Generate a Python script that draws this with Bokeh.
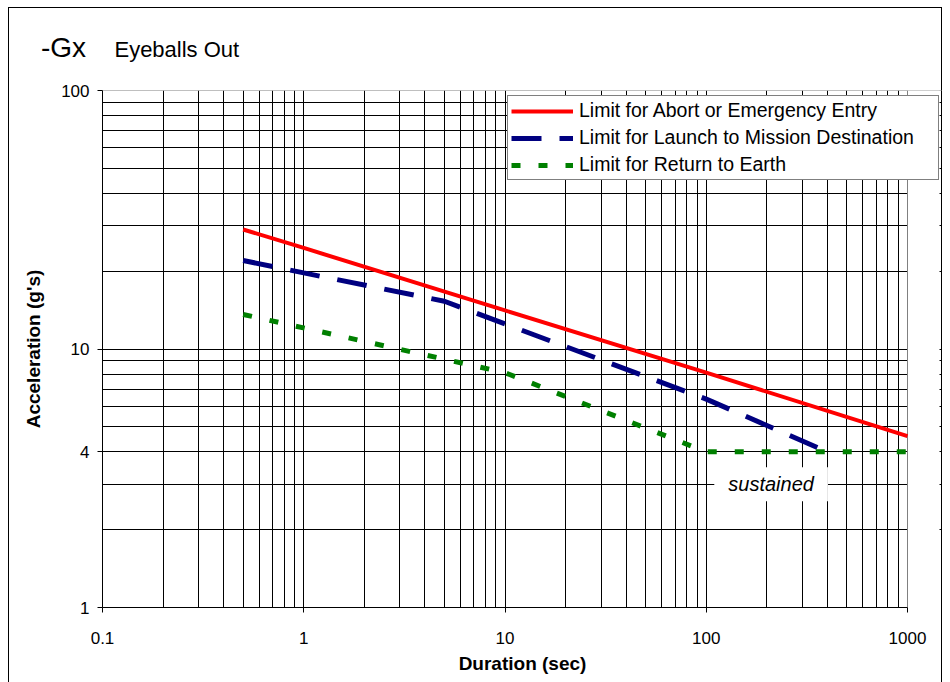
from bokeh.plotting import figure
from bokeh.layouts import column
from bokeh.models import (FixedTicker, Label, Legend, LegendItem, Range1d, Div,
                          CustomJSTickFormatter, Span, BoxAnnotation)
from bokeh.embed import file_html
from bokeh.resources import INLINE

# ---- data ----
abort_x = [0.5, 1, 10, 100, 1000]
abort_y = [29.0, 24.6, 14.1, 8.1, 4.6]

launch_x = [0.5, 1, 5, 10, 100, 400]
launch_y = [22.0, 19.7, 15.3, 12.5, 6.4, 4.0]

return_x = [0.5, 10, 100, 1000]
return_y = [13.6, 8.1, 4.0, 4.0]

series_labels = [
    "Limit for Abort or Emergency Entry",
    "Limit for Launch to Mission Destination",
    "Limit for Return to Earth",
]

x_ticks = [0.1, 1, 10, 100, 1000]
x_tick_labels = ["0.1", "1", "10", "100", "1000"]
y_ticks = [1, 4, 10, 100]
y_tick_labels = ["1", "4", "10", "100"]

x_grid_lines = [m * 10.0 ** e for e in range(-1, 3) for m in range(1, 10)]
y_grid_lines = [m * 10.0 ** e for e in range(0, 2) for m in range(1, 10)]

FONT = "Liberation Sans"

# ---- layout geometry ----
W, H_TITLE, H_PLOT = 942, 70, 602
LEFT = 102
DECADE_PX = 201.25
FRAME_W = W - LEFT
X_MIN, X_MAX = x_ticks[0], x_ticks[-1]
Y_MIN, Y_MAX = y_ticks[0], y_ticks[-1]
X_END = X_MIN * 10 ** (FRAME_W / DECADE_PX)          # frame runs past 1000 so the legend fits
X_COVER = X_MIN * 10 ** ((FRAME_W - 3) / DECADE_PX)

title = Div(
    text=('<div style="padding:27px 0 0 36px;font-family:\'Liberation Sans\';'
          'color:#000;white-space:nowrap;line-height:normal;">'
          '<span style="font-size:28px">-Gx</span> '
          '<span style="font-size:22px;margin-left:25px">Eyeballs Out</span></div>'),
    width=W, height=H_TITLE)

p = figure(width=W, height=H_PLOT, x_axis_type="log", y_axis_type="log",
           x_range=Range1d(X_MIN, X_END), y_range=Range1d(Y_MIN, Y_MAX),
           output_backend="svg", toolbar_location=None, title=None,
           min_border_left=LEFT, min_border_right=0,
           min_border_top=10, min_border_bottom=75)
p.background_fill_alpha = 0
p.border_fill_alpha = 0
p.outline_line_color = None

fmt_code = """
const i = tvals.findIndex(t => Math.abs(t - tick) < 1e-9 * Math.max(1, Math.abs(t)));
return i >= 0 ? tlabels[i] : '';
"""
p.xaxis.ticker = FixedTicker(ticks=x_ticks, minor_ticks=[])
p.xaxis.formatter = CustomJSTickFormatter(args=dict(tvals=x_ticks, tlabels=x_tick_labels), code=fmt_code)
p.xaxis.bounds = (X_MIN, X_MAX)
p.yaxis.ticker = FixedTicker(ticks=y_ticks, minor_ticks=[])
p.yaxis.formatter = CustomJSTickFormatter(args=dict(tvals=y_ticks, tlabels=y_tick_labels), code=fmt_code)

for ax in (p.xaxis[0], p.yaxis[0]):
    ax.axis_line_color = "black"
    ax.axis_line_width = 1
    ax.major_tick_out = 5
    ax.major_tick_in = 0
    ax.minor_tick_out = 0
    ax.minor_tick_in = 0
    ax.major_tick_line_color = "black"
    ax.major_label_text_font = FONT
    ax.major_label_text_font_size = "17px"
    ax.major_label_text_color = "black"
    ax.axis_label_text_font = FONT
    ax.axis_label_text_font_size = "19px"
    ax.axis_label_text_font_style = "bold"
    ax.axis_label_text_color = "black"

p.xaxis.axis_label = "Duration (sec)"
p.yaxis.axis_label = "Acceleration (g's)"
p.xaxis.major_label_standoff = 19
p.xaxis.axis_label_standoff = 6
p.yaxis.major_label_standoff = 8
p.yaxis.axis_label_standoff = 14

p.xgrid.ticker = FixedTicker(ticks=x_grid_lines)
p.ygrid.ticker = FixedTicker(ticks=y_grid_lines)
for g in (p.xgrid[0], p.ygrid[0]):
    g.grid_line_color = "black"
    g.grid_line_alpha = 1.0
    g.grid_line_width = 1

# grey top edge of the plot area; the part beyond 1000 is hidden by the white box
p.add_layout(Span(location=Y_MAX, dimension="width", line_color="#808080",
                  line_width=1, level="underlay"))
p.add_layout(BoxAnnotation(left=X_MAX, right=X_COVER, fill_color="white", fill_alpha=1.0,
                           line_alpha=0, level="underlay"))
p.add_layout(Span(location=X_MAX, dimension="height", line_color="#808080",
                  line_width=1, level="underlay"))

r1 = p.line(abort_x, abort_y, line_color="#FF0000", line_width=4)
r2 = p.line(launch_x, launch_y, line_color="#000080", line_width=5, line_dash="30 18")
r3 = p.line(return_x, return_y, line_color="#008000", line_width=5, line_dash="9 18")

legend = Legend(items=[LegendItem(label=series_labels[0], renderers=[r1]),
                       LegendItem(label=series_labels[1], renderers=[r2]),
                       LegendItem(label=series_labels[2], renderers=[r3])],
                location=(405, 427), orientation="vertical",
                glyph_width=62, glyph_height=20, label_height=20, label_width=356,
                label_standoff=6, spacing=4, padding=3, margin=0,
                border_line_color="black", border_line_width=1,
                background_fill_color="white", background_fill_alpha=1.0,
                label_text_font=FONT, label_text_font_size="19.5px",
                label_text_color="black")
p.add_layout(legend)

p.add_layout(Label(x=210, y=3.0, text="sustained", text_font=FONT,
                   text_font_size="20px", text_font_style="italic",
                   text_align="center", text_baseline="middle", text_color="black",
                   background_fill_color="white", background_fill_alpha=1.0,
                   padding=(14, 6)))

layout = column(title, p, spacing=0)
layout.styles = {
    "background": ("linear-gradient(#000,#000) 8px 7px / 1px 675px no-repeat, "
                   "linear-gradient(#000,#000) 8px 7px / 934px 1px no-repeat, "
                   "linear-gradient(#000,#000) 941px 7px / 1px 675px no-repeat, #fff"),
}

open("out.html", "w").write(file_html(layout, INLINE))
